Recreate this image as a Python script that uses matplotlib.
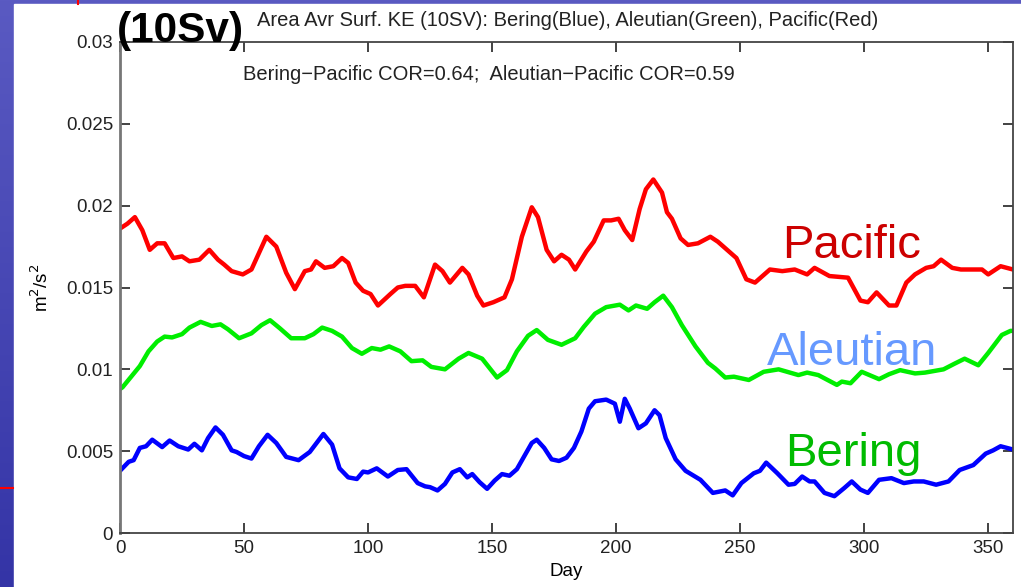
#Area averaged surface KE, Bering / Aleutian / Pacific
import matplotlib
matplotlib.use('Agg')
import matplotlib.pyplot as plt
import numpy as np
from matplotlib.patches import Rectangle
from matplotlib.lines import Line2D

plt.rcParams['font.family'] = ['Liberation Sans', 'DejaVu Sans']

# values read in units of 1e-3 m^2/s^2
pacific_day = [0, 3, 6, 9, 12, 15, 18, 21.5, 25, 28, 32, 36, 39.5, 42, 45, 49.5, 53, 56, 59, 63,
               67, 70.5, 74.5, 77, 79, 82.5, 86, 89.5, 92, 95, 98, 101, 104, 109, 112, 115, 119,
               122.5, 127, 130, 133, 138, 140.5, 144, 146.5, 150.5, 155, 158, 162, 166, 168.5,
               172, 175, 178, 181, 183.5, 188, 191, 195, 198, 201, 203.5, 206.5, 209.5, 212,
               215, 218.5, 220.5, 222.5, 226, 229, 233, 238, 241, 244, 248.5, 252.5, 256, 262,
               267, 272, 277, 280, 286, 293.5, 298.5, 301.5, 305, 310, 313, 317, 320.5, 325,
               328, 331, 335.5, 339, 343.5, 347.5, 350, 355, 360]
pacific_ke = [18.6, 18.9, 19.3, 18.5, 17.3, 17.7, 17.7, 16.8, 16.9, 16.6, 16.7, 17.3, 16.7, 16.4,
              16.0, 15.8, 16.1, 17.1, 18.1, 17.5, 15.9, 14.9, 16.0, 16.1, 16.6, 16.2, 16.3, 16.8,
              16.5, 15.3, 14.8, 14.6, 13.9, 14.6, 15.0, 15.1, 15.1, 14.4, 16.4, 16.0, 15.3, 16.2,
              15.8, 14.5, 13.9, 14.1, 14.4, 15.5, 18.1, 19.9, 19.3, 17.3, 16.6, 17.0, 16.7, 16.1,
              17.2, 17.8, 19.1, 19.1, 19.2, 18.5, 17.9, 19.8, 21.0, 21.6, 20.8, 19.6, 19.2, 18.0,
              17.6, 17.7, 18.1, 17.8, 17.4, 16.8, 15.5, 15.3, 16.1, 16.0, 16.1, 15.8, 16.2, 15.7,
              15.6, 14.2, 14.1, 14.7, 13.9, 13.9, 15.3, 15.8, 16.2, 16.3, 16.7, 16.2, 16.1, 16.1,
              16.1, 15.8, 16.3, 16.1]

aleutian_day = [0, 1, 4.5, 8, 11.5, 15, 18, 21, 25, 28, 32.5, 37, 40.5, 43.5, 48, 53, 57, 60.5,
                64.5, 69, 74.5, 78, 81.5, 85.5, 89.5, 93.5, 97.5, 101.5, 105, 108.5, 113, 117.5,
                122, 125.5, 131, 136.5, 140.5, 146, 152, 156, 160, 164.5, 168, 172.5, 178, 183.5,
                187, 191.5, 196, 201.5, 205, 208, 212.5, 215.5, 219, 222.5, 226.5, 232, 237, 240,
                244, 247.5, 253.5, 259.5, 265.5, 273.5, 277, 281.5, 289, 291, 294.5, 299, 306,
                310, 314.5, 320.5, 324.5, 332, 336.5, 340.5, 346, 350, 355.5, 359, 360]
aleutian_ke = [8.8, 8.9, 9.55, 10.2, 11.1, 11.7, 12.0, 11.95, 12.15, 12.55, 12.9, 12.65, 12.75,
               12.45, 11.9, 12.2, 12.7, 13.0, 12.5, 11.9, 11.9, 12.15, 12.55, 12.35, 12.0, 11.3,
               10.95, 11.3, 11.2, 11.4, 11.1, 10.5, 10.55, 10.15, 10.0, 10.65, 11.0, 10.65, 9.5,
               9.95, 11.1, 12.05, 12.4, 11.8, 11.5, 11.9, 12.6, 13.4, 13.8, 13.95, 13.6, 13.9,
               13.7, 14.1, 14.5, 13.8, 12.7, 11.4, 10.4, 10.05, 9.5, 9.55, 9.35, 9.85, 10.0, 9.65,
               9.8, 9.65, 9.05, 9.25, 9.15, 9.85, 9.4, 9.7, 9.95, 9.75, 9.8, 10.0, 10.35, 10.65,
               10.25, 11.0, 12.1, 12.35, 12.35]

bering_day = [0, 3.5, 5.5, 8, 10.5, 13, 17, 20, 23.5, 27.5, 30, 33, 35.5, 38.5, 41.5, 45, 47, 50,
              53, 56, 59.5, 63, 67, 72, 76.5, 82, 85.5, 88.5, 92, 95.5, 98, 100, 103.5, 108, 112,
              115.5, 120, 123, 125, 128, 131, 134, 137, 140, 142, 145, 148, 151, 154, 157, 160,
              163, 166, 168, 171, 174, 177, 180, 183, 186, 189, 191.5, 196, 199.5, 201.5, 203.5,
              205.5, 209, 212, 215.5, 217.5, 220, 224, 228, 234, 239, 244, 247, 250.5, 255.5, 258,
              260.5, 265, 269.5, 272, 275, 278, 280, 284, 288, 292, 295, 298.5, 301.5, 306, 311,
              316, 320, 324, 329, 334, 338.5, 344, 349, 352, 355, 360]
bering_ke = [3.8, 4.35, 4.45, 5.2, 5.3, 5.7, 5.25, 5.65, 5.3, 5.1, 5.45, 5.05, 5.8, 6.45, 6.0,
             5.05, 4.95, 4.7, 4.55, 5.3, 6.0, 5.5, 4.65, 4.45, 4.95, 6.05, 5.4, 3.95, 3.4, 3.3,
             3.75, 3.7, 3.95, 3.45, 3.85, 3.9, 3.05, 2.85, 2.8, 2.6, 3.0, 3.7, 3.9, 3.4, 3.6, 3.1,
             2.7, 3.2, 3.6, 3.5, 3.9, 4.7, 5.5, 5.7, 5.2, 4.5, 4.4, 4.6, 5.2, 6.2, 7.6, 8.05, 8.15,
             7.9, 6.8, 8.2, 7.6, 6.4, 6.7, 7.5, 7.2, 5.8, 4.5, 3.8, 3.25, 2.45, 2.6, 2.3, 3.05,
             3.65, 3.8, 4.3, 3.65, 2.95, 3.0, 3.45, 3.15, 3.15, 2.45, 2.25, 2.75, 3.15, 2.65, 2.45,
             3.25, 3.35, 3.05, 3.15, 3.15, 2.95, 3.15, 3.85, 4.15, 4.85, 5.05, 5.3, 5.1]

xticks = [0, 50, 100, 150, 200, 250, 300, 350]
yticks = [0, 0.005, 0.01, 0.015, 0.02, 0.025, 0.03]
ytick_labels = ['0', '0.005', '0.01', '0.015', '0.02', '0.025', '0.03']

W, H = 1021, 587
fig = plt.figure(figsize=(W / 100, H / 100), dpi=100)

# slide background: blue strip with gradient, white panel
bg = fig.add_axes([0, 0, 1, 1], zorder=-10)
grad = np.linspace(0, 1, 256).reshape(-1, 1)
bg.imshow(grad, aspect='auto', extent=[0, 1, 0, 1], origin='upper',
          cmap=matplotlib.colors.LinearSegmentedColormap.from_list('b', ['#5a5ac2', '#3434a6']))
bg.add_patch(Rectangle((14 / W, 0), 1 - 14 / W, 1 - 4 / H, color='white', transform=bg.transAxes))
bg.set_xlim(0, 1)
bg.set_ylim(0, 1)
bg.axis('off')
fig.add_artist(Line2D([78 / W, 78 / W], [1 - 4 / H, 1], color='red', lw=1.5))
fig.add_artist(Line2D([0, 13 / W], [1 - 488 / H, 1 - 488 / H], color='red', lw=1.5))

ax = fig.add_axes([120 / W, 54 / H, (1013 - 120) / W, (533 - 42) / H])
ax.set_facecolor('white')

to_si = lambda v: np.array(v) * 1e-3
ax.plot(pacific_day, to_si(pacific_ke), color='#ff0000', lw=3.2, solid_joinstyle='round')
ax.plot(aleutian_day, to_si(aleutian_ke), color='#00ee00', lw=3.2, solid_joinstyle='round')
ax.plot(bering_day, to_si(bering_ke), color='#0000ff', lw=3.2, solid_joinstyle='round')

ax.set_xlim(0, 360)
ax.set_ylim(0, 0.03)
ax.set_xticks(xticks)
ax.set_yticks(yticks)
ax.set_yticklabels(ytick_labels)
ax.tick_params(direction='in', length=7, width=1.2, top=True, right=True,
               labelsize=13.5, colors='#222222', pad=5)
for s in ax.spines.values():
    s.set_color('#444444')
    s.set_linewidth(1.3)
ax.spines['left'].set_color('#777777')
ax.spines['left'].set_linewidth(2)

ax.set_xlabel('Day', fontsize=13.5, labelpad=4)
ax.set_ylabel('m$^2$/s$^2$', fontsize=13.5, labelpad=10)

fig.text(117 / W, 1 - 31 / H, '(10Sv)', fontsize=30.5, fontweight='bold', va='center', ha='left')
fig.text(568 / W, 1 - 20 / H, 'Area Avr Surf. KE (10SV): Bering(Blue), Aleutian(Green), Pacific(Red)',
         fontsize=14.5, ha='center', va='center', color='#222222')
fig.text(243 / W, 1 - 74 / H, 'Bering\u2212Pacific COR=0.64;  Aleutian\u2212Pacific COR=0.59',
         fontsize=14.5, ha='left', va='center', color='#222222')

fig.text(852 / W, 1 - 258 / H, 'Pacific', fontsize=34, color='#cc0000', ha='center', va='baseline')
fig.text(852 / W, 1 - 365 / H, 'Aleutian', fontsize=34, color='#6699ff', ha='center', va='baseline')
fig.text(853 / W, 1 - 466 / H, 'Bering', fontsize=34, color='#00bb00', ha='center', va='baseline')

fig.savefig('out.png', dpi=100)
